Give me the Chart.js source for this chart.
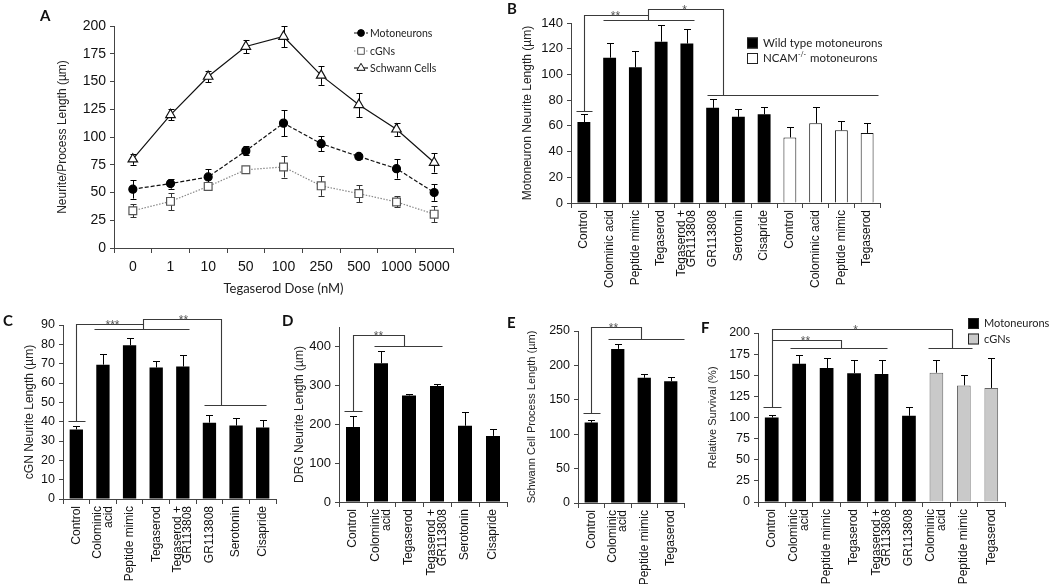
<!DOCTYPE html>
<html>
<head>
<meta charset="utf-8">
<script src="https://cdn.jsdelivr.net/npm/chart.js@4.4.1/dist/chart.umd.min.js"></script>
<style>
  body { margin: 0; background: #fff; width: 1050px; height: 584px; position: relative; overflow: hidden; }
  .panel { position: absolute; }
  .tag { position: absolute; font: bold 15px Lato, 'Liberation Sans', sans-serif; line-height: 1; color: #111; }
</style>
</head>
<body>
<div class="panel" id="pa"><canvas id="ca"></canvas></div>
<div class="panel" id="pb"><canvas id="cb"></canvas></div>
<div class="panel" id="pc"><canvas id="cc"></canvas></div>
<div class="panel" id="pd"><canvas id="cd"></canvas></div>
<div class="panel" id="pe"><canvas id="ce"></canvas></div>
<div class="panel" id="pf"><canvas id="cf"></canvas></div>
<div class="tag" style="left:40px;top:8px">A</div>
<div class="tag" style="left:507px;top:1px">B</div>
<div class="tag" style="left:3px;top:313px">C</div>
<div class="tag" style="left:282px;top:313px">D</div>
<div class="tag" style="left:507px;top:315px">E</div>
<div class="tag" style="left:701px;top:320px">F</div>
<script>
// ---- data ----
// A: dose response
const doseLabels = ['0', '1', '10', '50', '100', '250', '500', '1000', '5000'];
const motoValues = [53, 58, 64, 87.5, 112.5, 94, 82.5, 71.5, 50];
const motoErrors = [8.5, 4.5, 7, 4, 12, 7, 2, 9, 7.5];
const cgnValues = [33.5, 42, 55.5, 70.5, 73, 56, 49, 41.5, 30.5];
const cgnErrors = [6, 8, 3, 2, 9.5, 9, 7.5, 5, 7];
const schwannValues = [80, 120, 154.5, 181.5, 190.5, 155.5, 129, 107, 77];
const schwannErrors = [5, 5, 5, 6, 9.5, 8.5, 11, 6, 9];
const aYTicks = [0, 200, 25]; // min, max, step

// B: motoneuron neurite length
const bLabels = ['Control', 'Colominic acid', 'Peptide mimic', 'Tegaserod', ['Tegaserod +', 'GR113808'],
  'GR113808', 'Serotonin', 'Cisapride', 'Control', 'Colominic acid', 'Peptide mimic', 'Tegaserod'];
const bWild = [63, 113, 105.5, 125.5, 124, 74, 67, 69, null, null, null, null];
const bWildErr = [6, 11.5, 12.5, 13, 11, 7, 6.5, 6, null, null, null, null];
const bNcam = [null, null, null, null, null, null, null, null, 51, 62, 56.5, 54.5];
const bNcamErr = [null, null, null, null, null, null, null, null, 8, 13, 7, 8];
const bYTicks = [0, 140, 20];

// C: cGN neurite length
const cLabels = ['Control', ['Colominic', 'acid'], 'Peptide mimic', 'Tegaserod', ['Tegaserod +', 'GR113808'],
  'GR113808', 'Serotonin', 'Cisapride'];
const cValues = [36, 69.5, 79.5, 68, 68.5, 39.5, 38, 37];
const cErrors = [2, 5.5, 4, 3.3, 6, 4, 4, 4];
const cYTicks = [0, 90, 10];

// D: DRG neurite length
const dLabels = ['Control', ['Colominic', 'acid'], 'Tegaserod', ['Tegaserod +', 'GR113808'], 'Serotonin', 'Cisapride'];
const dValues = [193, 357, 274, 298, 196, 170];
const dErrors = [27, 31, 4, 6, 35, 19];
const dYTicks = [0, 450, 100];

// E: Schwann cell process length
const eLabels = ['Control', ['Colominic', 'acid'], 'Peptide mimic', 'Tegaserod'];
const eValues = [117, 224, 182, 177];
const eErrors = [3.5, 7, 5, 6];
const eYTicks = [0, 250, 50];

// F: relative survival
const fLabels = ['Control', ['Colominic', 'acid'], 'Peptide mimic', 'Tegaserod', ['Tegaserod +', 'GR113808'],
  'GR113808', ['Colominic', 'acid'], 'Peptide mimic', 'Tegaserod'];
const fMoto = [100, 163.5, 158.5, 152.5, 151.5, 102, null, null, null];
const fMotoErr = [3, 11, 12, 16, 16, 10, null, null, null];
const fCgn = [null, null, null, null, null, null, 153, 138, 135];
const fCgnErr = [null, null, null, null, null, null, 15, 12.5, 36];
const fYTicks = [0, 200, 25];

// significance brackets, in category index / value units
const bBrackets = [
  { x1: 0, y1: 71.3, top: 146.5, x2: 2.5, y2: 142.6, span: [0.75, 4.28], tick: true, label: '**', labelAt: 1.2 },
  { x1: 2.5, y1: 146.5, top: 150.9, x2: 5.4, y2: 83.7, span: [4.78, 11.42], label: '*', labelAt: 3.9 }
];
const cBrackets = [
  { x1: 0, y1: 40.6, top: 90.4, x2: 2.5, y2: 87.8, span: [0.68, 4.24], tick: true, label: '***', labelAt: 1.33 },
  { x1: 2.5, y1: 90.4, top: 92.9, x2: 5.44, y2: 48.7, span: [4.78, 7.13], label: '**', labelAt: 4.0 }
];
const dBrackets = [
  { x1: 0, y1: 234, top: 430, x2: 1.83, y2: 402, span: [0.75, 3.17], tick: true, label: '**', labelAt: 0.9 }
];
const eBrackets = [
  { x1: 0, y1: 130.3, top: 255.8, x2: 1.87, y2: 238.9, span: [0.65, 3.5], tick: true, label: '**', labelAt: 0.82 }
];
const fBrackets = [
  { x1: 0, y1: 112.3, top: 204.7, x2: 6.56, y2: 182.2, span: [5.71, 7.31], tick: true, label: '*', labelAt: 3.04 },
  { x1: 0, y1: 191.3, top: 191.3, x2: 2.53, y2: 182.2, span: [0.67, 4.2], label: '**', labelAt: 1.21 }
];

// ---- setup ----
Chart.defaults.font.family = "'Liberation Sans', Arial, sans-serif";
Chart.defaults.color = '#1a1a1a';
Chart.defaults.animation = false;
Chart.defaults.events = [];
Chart.defaults.plugins.legend.display = false;
Chart.defaults.plugins.tooltip.enabled = false;

const AXIS = '#444';

// box = container in page px, l/t/r/b = wanted chart area, tx = y title centre
function place(id, box) {
  const el = document.getElementById(id);
  el.style.left = box.left + 'px';
  el.style.top = box.top + 'px';
  el.style.width = box.width + 'px';
  el.style.height = box.height + 'px';
}

function scalesFor(box, yTicks, yTitle, opts) {
  const tSize = opts.titleSize || 12;
  return {
    x: {
      offset: true,
      grid: { offset: true, drawOnChartArea: false, tickLength: 5, color: AXIS },
      border: { color: AXIS },
      ticks: {
        display: !!opts.flat,
        autoSkip: false,
        maxRotation: 0,
        font: { size: opts.xSize || 12 },
        color: '#111',
        padding: 6
      },
      title: opts.xTitle ? {
        display: true, text: opts.xTitle, color: '#222',
        font: { family: "Lato, 'Liberation Sans', sans-serif", size: 13 },
        padding: { top: 0, bottom: 3 }
      } : { display: false },
      afterFit: s => { s.height = box.top + box.height - box.b; }
    },
    y: {
      min: yTicks[0],
      max: yTicks[1],
      ticks: { stepSize: yTicks[2], includeBounds: false, font: { size: opts.ySize || 13 }, color: '#111', padding: 4 },
      grid: { drawOnChartArea: false, tickLength: 4, color: AXIS },
      border: { color: AXIS },
      title: {
        display: true, text: yTitle, color: '#222',
        font: { size: tSize },
        padding: { top: box.tx - box.left - tSize * 0.6, bottom: 0 }
      },
      afterFit: s => { s.width = box.l - box.left; }
    }
  };
}

function layoutFor(box) {
  return { padding: { top: box.t - box.top, right: box.left + box.width - box.r, left: 0, bottom: 0 } };
}

const errorBars = {
  id: 'errorBars',
  beforeDatasetsDraw(chart) {
    const ctx = chart.ctx, ys = chart.scales.y;
    const isLine = chart.config.type === 'line';
    chart.data.datasets.forEach((ds, i) => {
      if (!ds.errors) return;
      const meta = chart.getDatasetMeta(i);
      ctx.save();
      ctx.strokeStyle = ds.errorColor || '#000';
      ctx.lineWidth = 1;
      meta.data.forEach((el, j) => {
        const v = ds.data[j], e = ds.errors[j];
        if (v == null || e == null) return;
        const x = Math.round(el.x) + 0.5;
        const top = Math.round(ys.getPixelForValue(v + e)) + 0.5;
        const bot = isLine ? ys.getPixelForValue(v - e) : ys.getPixelForValue(v);
        const cap = isLine ? 3 : 3.5;
        ctx.beginPath();
        ctx.moveTo(x, bot);
        ctx.lineTo(x, top);
        ctx.moveTo(x - cap, top);
        ctx.lineTo(x + cap, top);
        if (isLine) {
          const b = Math.round(bot) + 0.5;
          ctx.moveTo(x - cap, b);
          ctx.lineTo(x + cap, b);
        }
        ctx.stroke();
      });
      ctx.restore();
    });
  }
};

// vertical category labels, multi-line ones centred on their tick
function verticalLabels(size, lineH) {
  return {
    id: 'verticalLabels',
    afterDraw(chart) {
      const ctx = chart.ctx, xs = chart.scales.x;
      ctx.save();
      ctx.fillStyle = '#111';
      ctx.font = size + "px 'Liberation Sans', Arial, sans-serif";
      ctx.textAlign = 'right';
      ctx.textBaseline = 'middle';
      chart.data.labels.forEach((lab, i) => {
        const lines = Array.isArray(lab) ? lab : [lab];
        const x = xs.getPixelForTick(i);
        lines.forEach((line, k) => {
          const off = (k - (lines.length - 1) / 2) * lineH;
          ctx.save();
          ctx.translate(x + off, xs.top + 7);
          ctx.rotate(-Math.PI / 2);
          ctx.fillText(line, 0, 0);
          ctx.restore();
        });
      });
      ctx.restore();
    }
  };
}

function bracketPlugin(list) {
  return {
    id: 'brackets',
    afterDraw(chart) {
      const ctx = chart.ctx, xs = chart.scales.x, ys = chart.scales.y;
      const X = v => Math.round(xs.getPixelForValue(v)) + 0.5;
      const Y = v => Math.round(ys.getPixelForValue(v)) + 0.5;
      ctx.save();
      ctx.strokeStyle = '#3a3a3a';
      ctx.lineWidth = 1.1;
      ctx.fillStyle = '#555';
      ctx.font = "12px 'Liberation Sans', Arial, sans-serif";
      ctx.textAlign = 'center';
      ctx.textBaseline = 'alphabetic';
      list.forEach(b => {
        ctx.beginPath();
        ctx.moveTo(X(b.x1), Y(b.y1));
        ctx.lineTo(X(b.x1), Y(b.top));
        ctx.lineTo(X(b.x2), Y(b.top));
        ctx.lineTo(X(b.x2), Y(b.y2));
        ctx.moveTo(X(b.span[0]), Y(b.y2));
        ctx.lineTo(X(b.span[1]), Y(b.y2));
        if (b.tick) {
          ctx.moveTo(X(b.x1 - 0.32), Y(b.y1));
          ctx.lineTo(X(b.x1 + 0.32), Y(b.y1));
        }
        ctx.stroke();
        ctx.fillText(b.label, X(b.labelAt), Y(b.top) + 4);
      });
      ctx.restore();
    }
  };
}

// box legend (B and F); text parts in ^{} are superscript
function boxLegend(x, y0, rowH, size) {
  return {
    id: 'boxLegend',
    afterDraw(chart) {
      const ctx = chart.ctx;
      ctx.save();
      chart.data.datasets.forEach((ds, i) => {
        const cy = y0 + i * rowH;
        ctx.fillStyle = ds.backgroundColor;
        ctx.fillRect(x, cy - 5.5, 11, 11);
        ctx.strokeStyle = '#222';
        ctx.lineWidth = 1;
        ctx.strokeRect(x + 0.5, cy - 5, 10, 10);
        ctx.fillStyle = '#222';
        ctx.textBaseline = 'middle';
        let tx = x + 16;
        ds.label.split(/(\^\{[^}]*\})/).forEach(part => {
          if (!part) return;
          const sup = part.startsWith('^{');
          const txt = sup ? part.slice(2, -1) : part;
          ctx.font = (sup ? size * 0.6 : size) + "px Lato, 'Liberation Sans', sans-serif";
          ctx.fillText(txt, tx, sup ? cy - 4 : cy);
          tx += ctx.measureText(txt).width + (sup ? 1 : 0);
        });
      });
      ctx.restore();
    }
  };
}

// line legend for A: dashed sample with the marker in the middle
const lineLegend = {
  id: 'lineLegend',
  afterDraw(chart) {
    const ctx = chart.ctx;
    const x0 = 354, x1 = 368, rows = [33, 51, 68];
    ctx.save();
    chart.data.datasets.forEach((ds, i) => {
      const y = rows[i];
      ctx.strokeStyle = ds.borderColor;
      ctx.lineWidth = ds.borderWidth;
      ctx.setLineDash(ds.borderDash || []);
      ctx.beginPath();
      ctx.moveTo(x0, y);
      ctx.lineTo(x1, y);
      ctx.stroke();
      ctx.setLineDash([]);
      ctx.fillStyle = ds.pointBackgroundColor;
      ctx.strokeStyle = ds.pointBorderColor;
      ctx.lineWidth = 1;
      Chart.helpers.drawPoint(ctx, { pointStyle: ds.pointStyle, radius: ds.pointRadius * 0.85, rotation: 0, borderWidth: 1 }, (x0 + x1) / 2, y);
      ctx.fillStyle = '#222';
      ctx.font = "10.5px Lato, 'Liberation Sans', sans-serif";
      ctx.textBaseline = 'middle';
      ctx.fillText(ds.label, x1 + 2, y + 0.5);
    });
    ctx.restore();
  }
};

function barSet(label, data, errors, fill, extra) {
  return Object.assign({
    label: label, data: data, errors: errors,
    backgroundColor: fill, borderColor: '#111', borderWidth: fill === '#000' ? 0 : 1,
    categoryPercentage: 1, barPercentage: 0.5, grouped: false
  }, extra || {});
}

// ---- A ----
const boxA = { left: 0, top: 0, width: 470, height: 300, l: 114, t: 26, r: 453, b: 248, tx: 63 };
place('pa', boxA);
new Chart(document.getElementById('ca'), {
  type: 'line',
  data: {
    labels: doseLabels,
    datasets: [
      { label: 'Motoneurons', data: motoValues, errors: motoErrors, borderColor: '#111', borderWidth: 1.2,
        borderDash: [4, 2], pointStyle: 'circle', pointRadius: 4, pointBackgroundColor: '#000', pointBorderColor: '#000', tension: 0 },
      { label: 'cGNs', data: cgnValues, errors: cgnErrors, errorColor: '#333', borderColor: '#888', borderWidth: 1.2,
        borderDash: [1.5, 1.5], pointStyle: 'rect', pointRadius: 5.5, pointBackgroundColor: '#fff', pointBorderColor: '#555', tension: 0 },
      { label: 'Schwann Cells', data: schwannValues, errors: schwannErrors, borderColor: '#111', borderWidth: 1.2,
        pointStyle: 'triangle', pointRadius: 5.5, pointBackgroundColor: '#fff', pointBorderColor: '#111', tension: 0 }
    ]
  },
  options: {
    responsive: true, maintainAspectRatio: false,
    layout: layoutFor(boxA),
    scales: scalesFor(boxA, aYTicks, 'Neurite/Process Length (µm)',
      { flat: true, xSize: 14, ySize: 14, titleSize: 12, xTitle: 'Tegaserod Dose (nM)' })
  },
  plugins: [errorBars, lineLegend]
});

// ---- B ----
const boxB = { left: 505, top: 0, width: 400, height: 290, l: 571, t: 23, r: 880, b: 203, tx: 528 };
place('pb', boxB);
new Chart(document.getElementById('cb'), {
  type: 'bar',
  data: {
    labels: bLabels,
    datasets: [
      barSet('Wild type motoneurons', bWild, bWildErr, '#000'),
      barSet('NCAM^{-/-} motoneurons', bNcam, bNcamErr, '#fff')
    ]
  },
  options: {
    responsive: true, maintainAspectRatio: false,
    layout: layoutFor(boxB),
    scales: scalesFor(boxB, bYTicks, 'Motoneuron Neurite Length (µm)', { ySize: 13 })
  },
  plugins: [errorBars, verticalLabels(12, 10.5), bracketPlugin(bBrackets), boxLegend(242, 43, 15.5, 11.5)]
});

// ---- C ----
const boxC = { left: 0, top: 290, width: 285, height: 294, l: 63, t: 325, r: 276, b: 499, tx: 30 };
place('pc', boxC);
new Chart(document.getElementById('cc'), {
  type: 'bar',
  data: { labels: cLabels, datasets: [barSet('cGN', cValues, cErrors, '#000')] },
  options: {
    responsive: true, maintainAspectRatio: false,
    layout: layoutFor(boxC),
    scales: scalesFor(boxC, cYTicks, 'cGN Neurite Length (µm)', { ySize: 12.5 })
  },
  plugins: [errorBars, verticalLabels(12, 10.5), bracketPlugin(cBrackets)]
});

// ---- D ----
const boxD = { left: 285, top: 290, width: 230, height: 294, l: 339, t: 327, r: 507, b: 502, tx: 300 };
place('pd', boxD);
new Chart(document.getElementById('cd'), {
  type: 'bar',
  data: { labels: dLabels, datasets: [barSet('DRG', dValues, dErrors, '#000')] },
  options: {
    responsive: true, maintainAspectRatio: false,
    layout: layoutFor(boxD),
    scales: scalesFor(boxD, dYTicks, 'DRG Neurite Length (µm)', { ySize: 13 })
  },
  plugins: [errorBars, verticalLabels(12, 10.5), bracketPlugin(dBrackets)]
});

// ---- E ----
const boxE = { left: 515, top: 290, width: 175, height: 294, l: 578, t: 331, r: 684, b: 503, tx: 532 };
place('pe', boxE);
new Chart(document.getElementById('ce'), {
  type: 'bar',
  data: { labels: eLabels, datasets: [barSet('Schwann', eValues, eErrors, '#000')] },
  options: {
    responsive: true, maintainAspectRatio: false,
    layout: layoutFor(boxE),
    scales: scalesFor(boxE, eYTicks, 'Schwann Cell Process Length (µm)', { ySize: 12.5, titleSize: 11 })
  },
  plugins: [errorBars, verticalLabels(12, 10.5), bracketPlugin(eBrackets)]
});

// ---- F ----
const boxF = { left: 690, top: 290, width: 360, height: 294, l: 758, t: 333, r: 1005, b: 502, tx: 713 };
place('pf', boxF);
new Chart(document.getElementById('cf'), {
  type: 'bar',
  data: {
    labels: fLabels,
    datasets: [
      barSet('Motoneurons', fMoto, fMotoErr, '#000'),
      barSet('cGNs', fCgn, fCgnErr, '#c9c9c9', { borderColor: '#666' })
    ]
  },
  options: {
    responsive: true, maintainAspectRatio: false,
    layout: layoutFor(boxF),
    scales: scalesFor(boxF, fYTicks, 'Relative Survival (%)', { ySize: 12.5, titleSize: 11 })
  },
  plugins: [errorBars, verticalLabels(12, 10.5), bracketPlugin(fBrackets), boxLegend(278, 33.5, 15.5, 11)]
});
</script>
</body>
</html>
